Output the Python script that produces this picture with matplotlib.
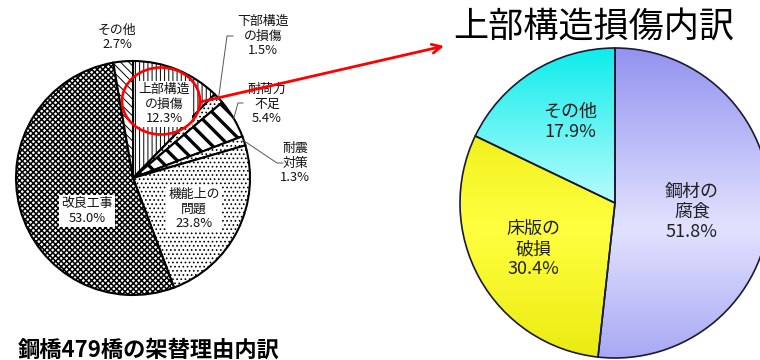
import numpy as np
import matplotlib.pyplot as plt
from matplotlib.patches import Ellipse
from matplotlib.colors import to_rgb

plt.rcParams['font.family'] = ['Noto Sans CJK JP', 'DejaVu Sans']

# 架替理由 (鋼橋479橋)
reason_labels = ['上部構造\nの損傷', '下部構造\nの損傷', '耐荷力\n不足', '耐震\n対策',
                 '機能上の\n問題', '改良工事', 'その他']
reason_values = [12.3, 1.5, 5.4, 1.3, 23.8, 53.0, 2.7]
reason_hatch = ['||||', '....', '\\\\', '....', '....', 'xxxxxx', '\\\\\\\\']

# 上部構造損傷の内訳
damage_labels = ['鋼材の\n腐食', '床版の\n破損', 'その他']
damage_values = [51.8, 30.4, 17.9]
grad_edge = ['#9595f0', '#e4e400', '#14ecec']
grad_mid = ['#e2e2ff', '#ffff40', '#d2ffff']

fig = plt.figure(figsize=(7.6, 3.6), dpi=100)
ax = fig.add_axes([0, 0, 1, 1])

# left pie (pixel coordinates, y downward)
c1, r1 = (133, 178), 117
w1, _ = ax.pie(reason_values, center=c1, radius=r1, startangle=270, counterclock=True,
               wedgeprops=dict(facecolor='white', edgecolor='black', linewidth=1.5))
hatch_lw = {'\\\\': 2.4, 'xxxxxx': 1.1}
for w, h in zip(w1, reason_hatch):
    w.set_hatch(h)
    if hasattr(w, 'set_hatch_linewidth'):
        w.set_hatch_linewidth(hatch_lw.get(h, 0.7))

# label positions
pos_left = [(164, 104), (263, 36), (267, 104), (295, 163), (194, 209), (87, 211), (117, 37)]
boxed = [True, False, False, False, True, True, False]
for lab, v, (x, y), b in zip(reason_labels, reason_values, pos_left, boxed):
    bb = dict(facecolor='white', edgecolor='none', pad=1.5) if b else None
    ax.text(x, y, f'{lab}\n{v:.1f}%', ha='center', va='center', fontsize=9.3,
            linespacing=1.12, color='#111111', bbox=bb)

# leader lines for the thin slices
cum = np.cumsum([0] + reason_values)
leaders = {1: [(233, 36), (227, 36)], 2: [(243, 103), (238, 103)], 3: [(283, 163), (277, 163)]}
for i, pts in leaders.items():
    mid = np.deg2rad((cum[i] + cum[i + 1]) / 2 * 3.6)
    ex, ey = c1[0] + r1 * np.sin(mid), c1[1] - r1 * np.cos(mid)
    xs = [p[0] for p in pts] + [ex]
    ys = [p[1] for p in pts] + [ey]
    ax.plot(xs, ys, color='#555555', lw=0.7)

# right pie with vertical gradient fill
c2, r2 = (615, 203), 155
w2, _ = ax.pie(damage_values, center=c2, radius=r2, startangle=270, counterclock=True,
               wedgeprops=dict(facecolor='none', edgecolor='#1a1a33', linewidth=1.2))
ny = 200
yy = np.linspace(c2[1] - r2, c2[1] + r2, ny)
t = np.clip(np.abs(yy - 228) / 175, 0, 1)
for w, ce, cm in zip(w2, grad_edge, grad_mid):
    ce, cm = np.array(to_rgb(ce)), np.array(to_rgb(cm))
    img = (cm[None, :] + (ce - cm)[None, :] * t[:, None])[:, None, :]
    im = ax.imshow(img, extent=(c2[0] - r2, c2[0] + r2, c2[1] + r2, c2[1] - r2),
                   origin='upper', aspect='auto', interpolation='bilinear', zorder=0.5)
    im.set_clip_path(w)
    w.set_zorder(1)

pos_right = [(692, 212), (533, 249), (570, 122)]
for lab, v, (x, y) in zip(damage_labels, damage_values, pos_right):
    ax.text(x, y, f'{lab}\n{v:.1f}%', ha='center', va='center', fontsize=13,
            linespacing=1.15, color='#222222', zorder=3)

# highlight + arrow
ax.add_patch(Ellipse((161, 101), 78, 67, fill=False, edgecolor='red', lw=1.9, zorder=4))
ax.annotate('', xy=(444, 46), xytext=(200, 102),
            arrowprops=dict(arrowstyle='->', color='red', lw=2.0, mutation_scale=16,
                            shrinkA=0, shrinkB=0), zorder=4)

ax.text(453, 28, '上部構造損傷内訳', ha='left', va='center', fontsize=25.3, color='black')
ax.text(18, 350, '鋼橋479橋の架替理由内訳', ha='left', va='center', fontsize=16,
        fontweight='bold', color='black')

ax.set_xlim(0, 760)
ax.set_ylim(360, 0)
ax.set_aspect('equal')
ax.axis('off')
fig.savefig('out.png', dpi=100)
